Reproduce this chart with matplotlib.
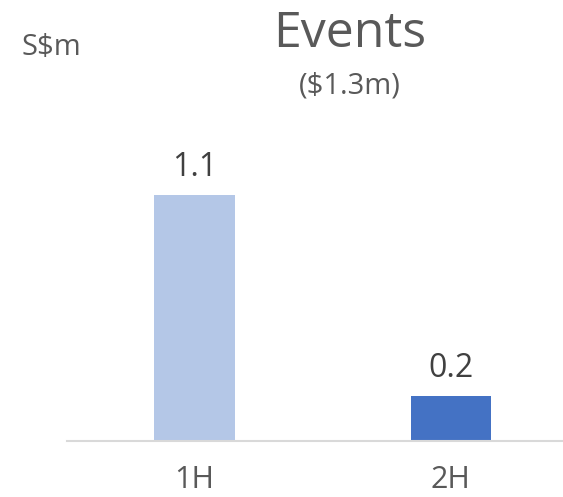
import matplotlib.pyplot as plt

halves = ['1H', '2H']
events = [1.1, 0.2]
bar_colors = ['#B4C7E7', '#4472C4']

W, H = 563, 497
fig = plt.figure(figsize=(W / 100, H / 100), dpi=100)
plt.rcParams['font.family'] = ['Open Sans', 'DejaVu Sans']

# axes box in pixels: left edge 67, baseline at 441, 1.5 units tall
px_per_unit = 223.6
ax = fig.add_axes([67 / W, (H - 441) / H, 1 - 67 / W, 1.5 * px_per_unit / H])
x = list(range(len(halves)))
ax.bar(x, events, width=0.314, color=bar_colors)
ax.set_xlim(-0.497, 1.437)
ax.set_ylim(0, 1.5)

for xi, v in zip(x, events):
    ax.annotate('{:.1f}'.format(v), (xi, v), xytext=(0, 14), textcoords='offset points',
                ha='center', va='baseline', fontsize=23, color='#404040')

for side in ['top', 'right', 'left']:
    ax.spines[side].set_visible(False)
ax.spines['bottom'].set_color('#D9D9D9')
ax.spines['bottom'].set_linewidth(1.5)
ax.set_yticks([])
ax.set_xticks(x)
ax.set_xticklabels(halves, fontsize=22, color='#595959')
ax.tick_params(axis='x', length=0, pad=17)

fig.text(350 / W, 1 - 47 / H, 'Events', ha='center', va='baseline', fontsize=36, color='#595959')
fig.text(350 / W, 1 - 93 / H, '($1.3m)', ha='center', va='baseline', fontsize=21, color='#595959')
fig.text(51 / W, 1 - 55 / H, 'S$m', ha='center', va='baseline', fontsize=21, color='#595959')

fig.savefig('out.png', dpi=100)
